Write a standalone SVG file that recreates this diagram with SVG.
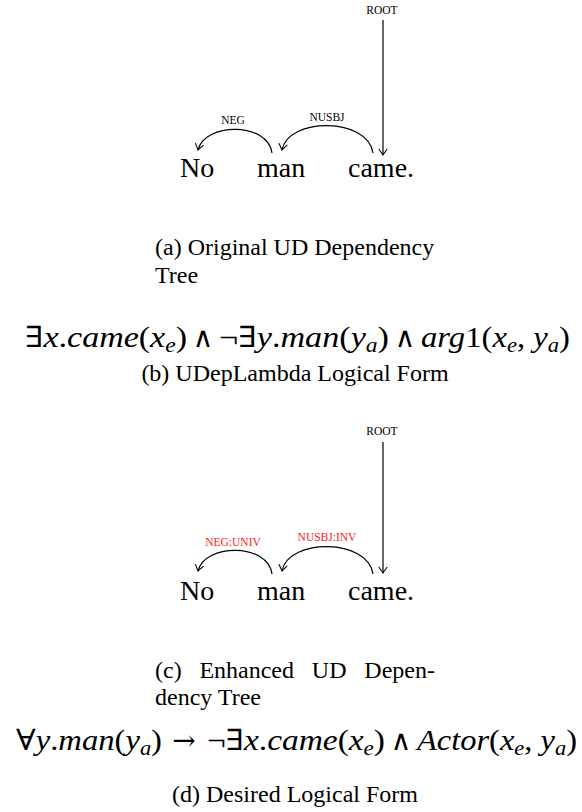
<svg xmlns="http://www.w3.org/2000/svg" width="582" height="812" viewBox="0 0 582 812">
<style>
.w{font-family:"Liberation Serif","Times New Roman",serif;font-size:28px;fill:#000}
.lab{font-family:"Liberation Serif","Times New Roman",serif;font-size:11.5px;fill:#000;text-anchor:middle}
.red{fill:#ff1a1a}
.cap{font-family:"Liberation Serif","Times New Roman",serif;font-size:24px;fill:#000}
.mid{text-anchor:middle}
.m{font-family:"Liberation Serif","DejaVu Serif",serif;font-size:29px;fill:#000}
.sym{font-family:"DejaVu Serif","Liberation Serif",serif;font-size:28px;fill:#000;text-anchor:middle}
.i{font-style:italic}
.s{font-size:20px;font-style:italic}
.arc{fill:none;stroke:#000;stroke-width:1.2;marker-end:url(#ah)}
</style>
<defs>
<marker id="ah" markerWidth="12" markerHeight="12" refX="0" refY="0" viewBox="-7 -6 9 12" orient="auto" markerUnits="userSpaceOnUse">
<path d="M-6,-4.2 Q-1.5,-1 0,0 Q-1.5,1 -6,4.2" fill="none" stroke="#000" stroke-width="1.1"/>
</marker>
</defs>

<g id="tree-a">
<g id="a-no"><text class="w" x="180" y="177">No</text></g>
<g id="a-man"><text class="w" x="257" y="177">man</text></g>
<g id="a-came"><text class="w" x="348" y="177">came.</text></g>
<g id="a-labels">
<text class="lab" x="382" y="14">ROOT</text>
<text class="lab" x="233" y="124">NEG</text>
<text class="lab" x="327" y="121">NUSBJ</text>
</g>
</g>

<g id="tree-c">
<g id="c-no"><text class="w" x="180" y="600">No</text></g>
<g id="c-man"><text class="w" x="257" y="600">man</text></g>
<g id="c-came"><text class="w" x="348" y="600">came.</text></g>
<g id="c-labels">
<text class="lab" x="382" y="435">ROOT</text>
<text class="lab red" x="233" y="546">NEG:UNIV</text>
<text class="lab red" x="327" y="541">NUSBJ:INV</text>
</g>
</g>

<g id="connectors">
<line class="arc" x1="383" y1="20" x2="383" y2="155"/>
<path class="arc" d="M272,153 C268,122 205,122 198,150"/>
<path class="arc" d="M373,153 C368,117 288,117 282,150"/>
<line class="arc" x1="383" y1="442" x2="383" y2="573"/>
<path class="arc" d="M272,574 C268,543 205,543 198,571"/>
<path class="arc" d="M373,574 C368,538 288,538 282,571"/>
</g>

<g id="caption-a">
<text class="cap" x="155" y="255">(a) Original UD Dependency</text>
<text class="cap" x="155" y="283">Tree</text>
</g>

<g id="formula-b">
<text class="m" x="25" y="347" textLength="162" lengthAdjust="spacingAndGlyphs">∃<tspan class="i">x</tspan>.<tspan class="i">came</tspan>(<tspan class="i">x</tspan><tspan class="s" dy="5">e</tspan><tspan dy="-5">)</tspan></text>
<text class="sym" x="203" y="347">∧</text>
<text class="m" x="219" y="347" textLength="170" lengthAdjust="spacingAndGlyphs">¬∃<tspan class="i">y</tspan>.<tspan class="i">man</tspan>(<tspan class="i">y</tspan><tspan class="s" dy="5">a</tspan><tspan dy="-5">)</tspan></text>
<text class="sym" x="405" y="347">∧</text>
<text class="m" x="421" y="347" textLength="149" lengthAdjust="spacingAndGlyphs"><tspan class="i">arg</tspan>1(<tspan class="i">x</tspan><tspan class="s" dy="5">e</tspan><tspan dy="-5">, </tspan><tspan class="i">y</tspan><tspan class="s" dy="5">a</tspan><tspan dy="-5">)</tspan></text>
</g>

<g id="caption-b">
<text class="cap mid" x="295" y="381">(b) UDepLambda Logical Form</text>
</g>

<g id="caption-c">
<text class="cap" y="678"><tspan x="155">(c)</tspan><tspan x="199.4">Enhanced</tspan><tspan x="311.8">UD</tspan><tspan x="364.3">Depen-</tspan></text>
<text class="cap" x="155" y="705">dency Tree</text>
</g>

<g id="formula-d">
<text class="m" x="16" y="750" textLength="146" lengthAdjust="spacingAndGlyphs">∀<tspan class="i">y</tspan>.<tspan class="i">man</tspan>(<tspan class="i">y</tspan><tspan class="s" dy="5">a</tspan><tspan dy="-5">)</tspan></text>
<text class="sym" x="184" y="750" font-size="34">→</text>
<text class="m" x="207" y="750" textLength="178" lengthAdjust="spacingAndGlyphs">¬∃<tspan class="i">x</tspan>.<tspan class="i">came</tspan>(<tspan class="i">x</tspan><tspan class="s" dy="5">e</tspan><tspan dy="-5">)</tspan></text>
<text class="sym" x="401" y="750">∧</text>
<text class="m" x="417" y="750" textLength="160" lengthAdjust="spacingAndGlyphs"><tspan class="i">Actor</tspan>(<tspan class="i">x</tspan><tspan class="s" dy="5">e</tspan><tspan dy="-5">, </tspan><tspan class="i">y</tspan><tspan class="s" dy="5">a</tspan><tspan dy="-5">)</tspan></text>
</g>

<g id="caption-d">
<text class="cap mid" x="295" y="802">(d) Desired Logical Form</text>
</g>
</svg>
